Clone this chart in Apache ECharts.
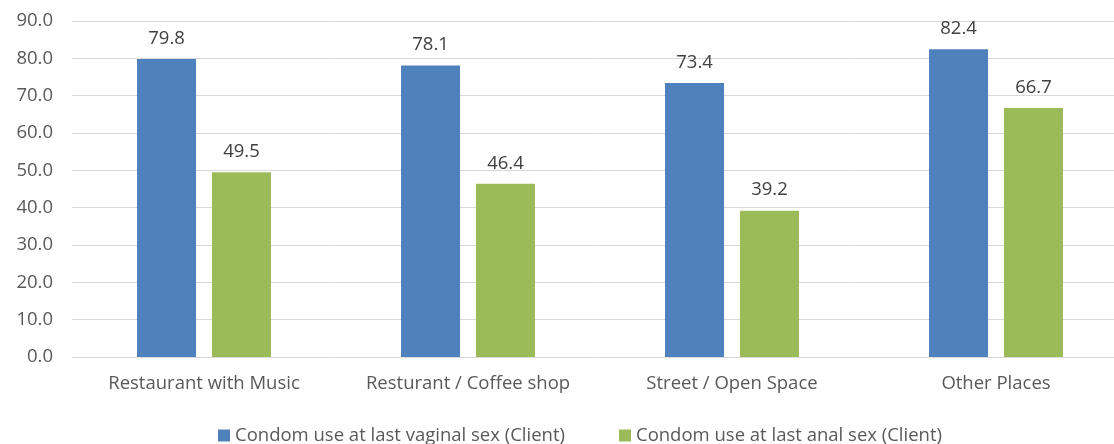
<!DOCTYPE html>
<html>
<head>
<meta charset="utf-8">
<script src="https://cdn.jsdelivr.net/npm/echarts@6/dist/echarts.min.js"></script>
<style>
  html, body { margin: 0; padding: 0; background: #ffffff; }
  #chart { width: 1114px; height: 444px; }
</style>
</head>
<body>
<div id="chart"></div>
<script>
// Condom use at last sex by venue type
const categories = ['Restaurant with Music', 'Resturant / Coffee shop', 'Street / Open Space', 'Other Places'];
const vaginalSex = [79.8, 78.1, 73.4, 82.4];
const analSex = [49.5, 46.4, 39.2, 66.7];
const seriesNames = ['Condom use at last vaginal sex (Client)', 'Condom use at last anal sex (Client)'];

const FONT = '"Open Sans", sans-serif';
const FS = 18.5;

const chart = echarts.init(document.getElementById('chart'));
const labelStyle = {
  show: true,
  position: 'top',
  distance: 11,
  color: '#404040',
  fontSize: FS,
  fontFamily: FONT,
  formatter: p => p.value.toFixed(1)
};

chart.setOption({
  animation: false,
  textStyle: { fontFamily: FONT },
  grid: { left: 72, width: 1056, top: 21, bottom: 87, containLabel: false, outerBoundsMode: 'none' },
  legend: {
    left: 213,
    top: 421,
    itemWidth: 12,
    itemHeight: 12,
    itemGap: 54,
    icon: 'rect',
    textStyle: { color: '#595959', fontSize: FS, fontFamily: FONT },
    data: seriesNames
  },
  xAxis: {
    type: 'category',
    data: categories,
    axisLine: { show: true, lineStyle: { color: '#d9d9d9', width: 1 } },
    axisTick: { show: false },
    axisLabel: { color: '#595959', fontSize: FS, fontFamily: FONT, margin: 17, interval: 0 }
  },
  yAxis: {
    type: 'value',
    min: 0,
    max: 90,
    interval: 10,
    axisLine: { show: false },
    axisTick: { show: false },
    splitLine: { lineStyle: { color: '#d9d9d9', width: 1 } },
    axisLabel: {
      color: '#595959', fontSize: FS, fontFamily: FONT, margin: 19,
      formatter: v => v.toFixed(1)
    }
  },
  series: [
    {
      name: seriesNames[0],
      type: 'bar',
      data: vaginalSex,
      barWidth: 59,
      barGap: '27%',
      itemStyle: { color: '#4f81bd' },
      label: labelStyle
    },
    {
      name: seriesNames[1],
      type: 'bar',
      data: analSex,
      barWidth: 59,
      barGap: '27%',
      itemStyle: { color: '#9bbb59' },
      label: labelStyle
    }
  ]
});
</script>
</body>
</html>
